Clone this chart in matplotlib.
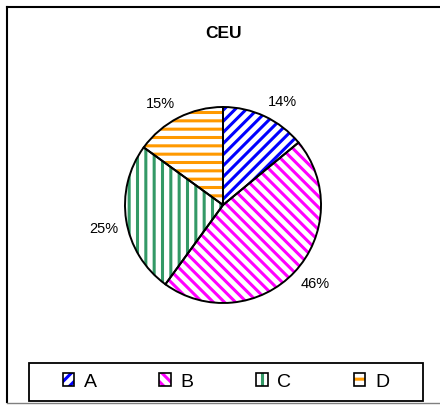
import matplotlib
matplotlib.use("Agg")
import numpy as np
import matplotlib.pyplot as plt
from matplotlib.lines import Line2D
from matplotlib.patches import Rectangle, Patch
from matplotlib.legend_handler import HandlerTuple

plt.rcParams['font.family'] = ['Liberation Sans', 'DejaVu Sans']
plt.rcParams['hatch.linewidth'] = 2.2

# Datos
categories = ['A', 'B', 'C', 'D']
shares = [14, 46, 25, 15]
hatch_colors = ['#0000ff', '#ff00ff', '#339966', '#ff9900']
hatches = ['///', '\\\\\\', '||', '--']

W, H = 440, 405
fig = plt.figure(figsize=(W / 100, H / 100), dpi=100)
ax = fig.add_axes([0, 0, 1, 1])

center = (223, H - 205)
radius = 98

# Relleno rayado de cada sector
wedges_fill, _, pct_texts = ax.pie(
    shares, startangle=90, counterclock=False, center=center, radius=radius,
    colors=['white'] * len(shares), autopct='%1.0f%%',
    textprops={'fontsize': 10.5, 'color': 'black'},
    wedgeprops={'linewidth': 0})
for w, c, h in zip(wedges_fill, hatch_colors, hatches):
    w.set_edgecolor(c)
    w.set_hatch(h)

# Etiquetas por fuera, pegadas al borde del sector
for w, t in zip(wedges_fill, pct_texts):
    ang = np.deg2rad((w.theta1 + w.theta2) / 2)
    dx, dy = np.cos(ang), np.sin(ang)
    t.set_position((center[0] + 1.08 * radius * dx,
                    center[1] + 1.08 * radius * dy))
    t.set_ha('left' if dx > 0 else 'right')
    t.set_va('bottom' if dy > 0 else 'top')

# Contorno negro encima
ax.pie(shares, startangle=90, counterclock=False, center=center, radius=radius,
       wedgeprops={'fill': False, 'edgecolor': 'black', 'linewidth': 1.4})

ax.set_xlim(0, W)
ax.set_ylim(0, H)
ax.axis('off')

ax.text(223, H - 33, 'CEU', fontsize=12.5, fontweight='bold',
        ha='center', va='center')

# Borde del grafico
fig.add_artist(Line2D([7 / W, 7 / W], [1 - 7 / H, 1 - 402 / H],
                      transform=fig.transFigure, color='black', lw=1.5))
fig.add_artist(Line2D([7 / W, 1], [1 - 7 / H, 1 - 7 / H],
                      transform=fig.transFigure, color='black', lw=1.5))
fig.add_artist(Line2D([7 / W, 1], [1 - 403 / H, 1 - 403 / H],
                      transform=fig.transFigure, color='#808080', lw=1))

# Leyenda
fig.add_artist(Rectangle((29 / W, 1 - 401 / H), 394 / W, 38 / H,
                         transform=fig.transFigure, fill=False,
                         edgecolor='black', lw=1.3))
handles = [(Patch(facecolor='white', edgecolor=c, hatch=h, lw=0),
            Patch(fill=False, edgecolor='black', lw=1.2))
           for c, h in zip(hatch_colors, hatches)]
fig.legend(handles, categories, loc='center', ncol=4,
           bbox_to_anchor=(226 / W, 1 - 382 / H), frameon=False,
           fontsize=14, handlelength=0.6, handleheight=0.6,
           handletextpad=0.5, columnspacing=3.2,
           handler_map={tuple: HandlerTuple(ndivide=1, pad=0)})

fig.savefig('out.png', dpi=100)
